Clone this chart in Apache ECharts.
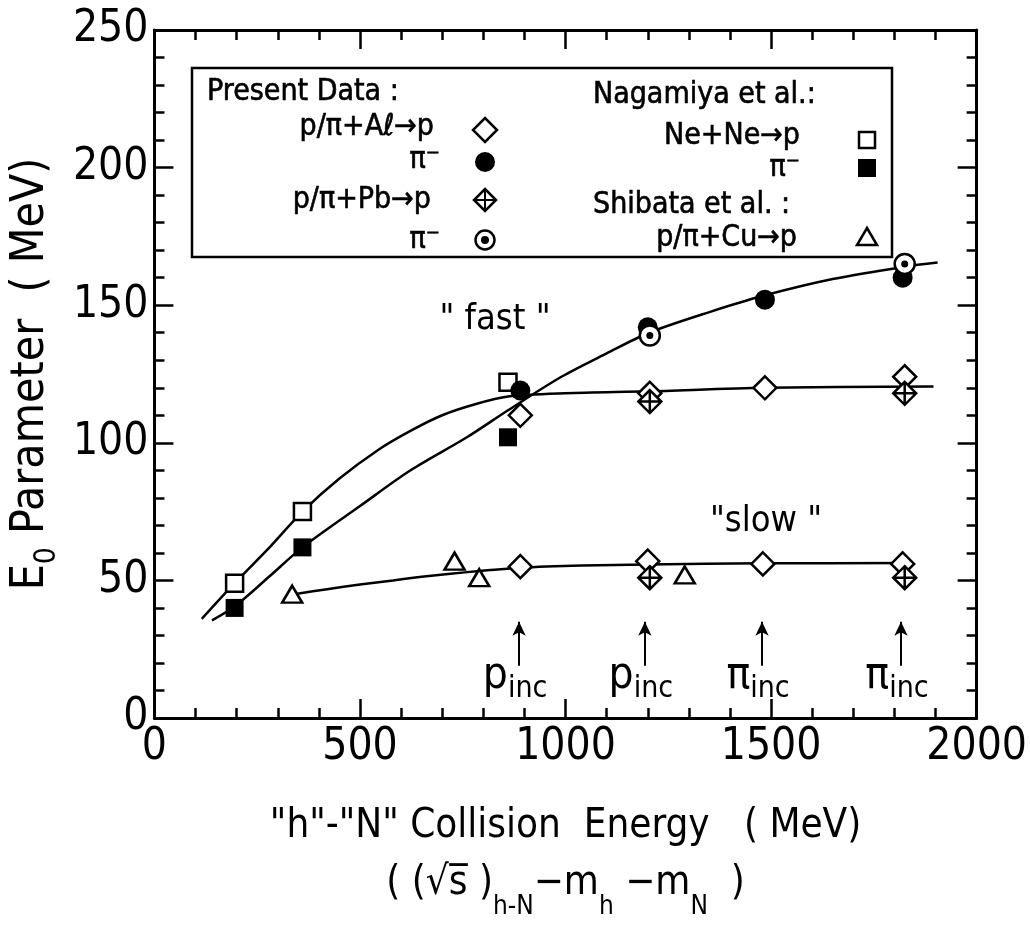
<!DOCTYPE html>
<html>
<head>
<meta charset="utf-8">
<script src="https://cdn.jsdelivr.net/npm/echarts@6/dist/echarts.min.js"></script>
<style>
html, body { margin: 0; padding: 0; background: #fff; }
#chart { width: 1030px; height: 938px; }
</style>
</head>
<body>
<div id="chart"></div>
<script>
const FONT = '"DejaVu Sans Condensed", "Liberation Sans Narrow", "DejaVu Sans", sans-serif'
const BLACK = '#000'

// present data: p/pi + Al
const alProtonFast = [[890, 110], [1205, 118], [1485, 120], [1825, 124]]
const alProtonSlow = [[890, 55], [1200, 57], [1480, 56], [1820, 56]]
const alPion = [[890, 119], [1200, 142], [1485, 152], [1820, 160]]
// present data: p/pi + Pb
const pbProton = [[1205, 115], [1825, 118], [1205, 51], [1825, 51]]
const pbPion = [[1205, 139], [1825, 165]]
// Nagamiya et al.: Ne + Ne
const neProton = [[195, 49], [360, 75], [860, 122]]
const nePion = [[195, 40], [360, 62], [860, 102]]
// Shibata et al.: p/pi + Cu
const cuProton = [[335, 45], [730, 57], [790, 51], [1290, 52]]

// guide curves
const curveProton = [[115, 36], [195, 49], [280, 62], [360, 75], [450, 87], [545, 97.5], [625, 104.5], [700, 110], [780, 114], [860, 116.8], [1000, 118], [1200, 118.7], [1485, 120], [1895, 120.5]]
const curvePion = [[140, 35.5], [195, 40.5], [280, 51.5], [360, 62], [500, 77], [623, 90], [760, 102], [862, 112], [990, 124], [1100, 132.5], [1203, 140], [1350, 147.5], [1483, 153.5], [1650, 159.5], [1825, 164], [1905, 165.5]]
const curveSlow = [[340, 45], [420, 46.8], [500, 48.5], [580, 50], [650, 51.3], [720, 52.4], [790, 53.4], [890, 54.6], [1040, 55.4], [1200, 55.8], [1480, 56.2], [1845, 56.3]]

// incident beam energies (arrows)
const incX = [887, 1193, 1478, 1816]
const incLabel = ['p', 'p', 'π', 'π']

const openStyle = { color: '#fff', borderColor: BLACK, borderWidth: 2.5, opacity: 1 }
const solidStyle = { color: BLACK, borderColor: BLACK, borderWidth: 0, opacity: 1 }
const crossDiamond = 'path://M0,-10L10,0L0,10L-10,0Z M-10,0L10,0 M0,-10L0,10'

function curve(data) {
  return {
    type: 'line', data, smooth: 0.3, showSymbol: false, silent: true,
    lineStyle: { color: BLACK, width: 2.5 }, z: 1,
  }
}
function dots(data, symbol, size, style, z) {
  return { type: 'scatter', data, symbol, symbolSize: size, itemStyle: style, z: z || 3 }
}

// legend drawn as a boxed panel like the original
const legendText = [
  { x: 207, y: 92, t: 'Present Data :', align: 'left' },
  { x: 434, y: 127, t: 'p/π+Aℓ→p', align: 'right' },
  { x: 440, y: 160, t: 'π⁻', align: 'right' },
  { x: 431, y: 200, t: 'p/π+Pb→p', align: 'right' },
  { x: 440, y: 240, t: 'π⁻', align: 'right' },
  { x: 593, y: 95, t: 'Nagamiya et al.:', align: 'left' },
  { x: 800, y: 136, t: 'Ne+Ne→p', align: 'right' },
  { x: 800, y: 168, t: 'π⁻', align: 'right' },
  { x: 593, y: 205, t: 'Shibata et al. :', align: 'left' },
  { x: 797, y: 238, t: 'p/π+Cu→p', align: 'right' },
]
const stroke = { fill: '#fff', stroke: BLACK, lineWidth: 2.5 }
const graphic = [
  { type: 'rect', shape: { x: 192, y: 68, width: 700, height: 189 }, style: { fill: '#fff', stroke: BLACK, lineWidth: 2.5 }, z: 5 },
  ...legendText.map(d => ({
    type: 'text', x: d.x, y: d.y, z: 6,
    style: { text: d.t, font: '30px ' + FONT, fill: BLACK, align: d.align, verticalAlign: 'middle', stroke: BLACK, lineWidth: 0.6 },
  })),
  { type: 'polygon', shape: { points: [[485, 118], [497, 130], [485, 142], [473, 130]] }, style: stroke, z: 6 },
  { type: 'circle', shape: { cx: 485, cy: 162, r: 10 }, style: { fill: BLACK }, z: 6 },
  { type: 'polygon', shape: { points: [[485, 189], [496, 200], [485, 211], [474, 200]] }, style: stroke, z: 6 },
  { type: 'polyline', shape: { points: [[474, 200], [496, 200]] }, style: { stroke: BLACK, lineWidth: 2 }, z: 7 },
  { type: 'polyline', shape: { points: [[485, 189], [485, 211]] }, style: { stroke: BLACK, lineWidth: 2 }, z: 7 },
  { type: 'circle', shape: { cx: 485, cy: 240, r: 9.5 }, style: stroke, z: 6 },
  { type: 'circle', shape: { cx: 485, cy: 240, r: 4 }, style: { fill: BLACK }, z: 7 },
  { type: 'rect', shape: { x: 859, y: 132, width: 16, height: 16 }, style: stroke, z: 6 },
  { type: 'rect', shape: { x: 858, y: 159, width: 18, height: 18 }, style: { fill: BLACK }, z: 6 },
  { type: 'polygon', shape: { points: [[867, 228], [877, 245], [857, 245]] }, style: stroke, z: 6 },
  // regime labels
  { type: 'text', x: 495, y: 320, z: 6, style: { text: '" fast "', font: '36px ' + FONT, fill: BLACK, align: 'center', verticalAlign: 'middle' } },
  { type: 'text', x: 766, y: 522, z: 6, style: { text: '"slow "', font: '36px ' + FONT, fill: BLACK, align: 'center', verticalAlign: 'middle' } },
]

const axisBase = {
  axisLine: { show: true, onZero: false, lineStyle: { color: BLACK, width: 3 } },
  axisTick: { show: true, inside: true, length: 19, lineStyle: { color: BLACK, width: 2.5 } },
  minorTick: { show: true, splitNumber: 5, length: 10, lineStyle: { color: BLACK, width: 2.5 } },
  splitLine: { show: false },
}
const plain = v => String(v)

const chart = echarts.init(document.getElementById('chart'), null, { renderer: 'canvas' })
chart.setOption({
  animation: false,
  backgroundColor: '#fff',
  grid: { left: 146, top: 30, width: 839, height: 688, containLabel: false },
  xAxis: [
    {
      ...axisBase, type: 'value', min: 0, max: 2000, interval: 500, position: 'bottom',
      axisLabel: { color: BLACK, fontFamily: FONT, fontSize: 44, margin: 8, formatter: plain },
      name: '{a|"h"-"N" Collision  Energy   ( MeV)}\n{b|( (√s̅ )}{s|h-N}{b|−m}{s|h}{b| −m}{s|N}{b|  )}',
      nameLocation: 'middle', nameGap: 72,
      nameTextStyle: {
        color: BLACK, fontFamily: FONT,
        rich: {
          a: { fontFamily: FONT, fontSize: 40, color: BLACK, lineHeight: 74 },
          b: { fontFamily: FONT, fontSize: 40, color: BLACK, lineHeight: 56, verticalAlign: 'top' },
          s: { fontFamily: FONT, fontSize: 26, color: BLACK, lineHeight: 30, verticalAlign: 'bottom' },
        },
      },
    },
    { ...axisBase, type: 'value', min: 0, max: 2000, interval: 500, position: 'top', axisLabel: { show: false } },
  ],
  yAxis: [
    {
      ...axisBase, type: 'value', min: 0, max: 250, interval: 50, position: 'left',
      axisLabel: { color: BLACK, fontFamily: FONT, fontSize: 44, margin: 6, formatter: plain },
      name: '{e|E}{z|0}{e| Parameter  ( MeV)}',
      nameLocation: 'middle', nameGap: 80, nameRotate: 90,
      nameTextStyle: {
        color: BLACK, fontFamily: FONT,
        rich: {
          e: { fontFamily: FONT, fontSize: 46, color: BLACK, lineHeight: 54, verticalAlign: 'top' },
          z: { fontFamily: FONT, fontSize: 30, color: BLACK, lineHeight: 30, verticalAlign: 'bottom' },
        },
      },
    },
    { ...axisBase, type: 'value', min: 0, max: 250, interval: 50, position: 'right', axisLabel: { show: false } },
  ],
  graphic,
  series: [
    curve(curveProton),
    curve(curvePion),
    curve(curveSlow),
    dots(nePion, 'rect', 18, solidStyle),
    dots(neProton, 'rect', 17, openStyle),
    dots(cuProton, 'triangle', [20, 17], openStyle),
    dots(alProtonFast.concat(alProtonSlow), 'diamond', 23, openStyle),
    dots(pbProton, crossDiamond, 23, openStyle, 4),
    dots(alPion, 'circle', 20, solidStyle, 4),
    dots(pbPion, 'circle', 20, openStyle, 5),
    dots(pbPion, 'circle', 7, solidStyle, 6),
    {
      type: 'scatter', silent: true, symbolSize: 0, z: 6, itemStyle: { opacity: 1 },
      data: incX.map((x, i) => ({ value: [x, 14], label: { formatter: '{p|' + incLabel[i] + '}{s|inc}' } })),
      label: {
        show: true, position: 'inside', offset: [-4, 0], opacity: 1,
        rich: {
          p: { fontFamily: FONT, fontSize: 44, color: BLACK, lineHeight: 50, verticalAlign: 'top' },
          s: { fontFamily: FONT, fontSize: 30, color: BLACK, lineHeight: 30, verticalAlign: 'bottom' },
        },
      },
      markLine: {
        silent: true, symbol: ['none', 'arrow'], symbolSize: [10, 14],
        lineStyle: { color: BLACK, width: 2, type: 'solid', opacity: 1 }, label: { show: false },
        data: incX.map(x => [{ coord: [x, 19] }, { coord: [x, 35] }]),
      },
    },
  ],
})
</script>
</body>
</html>
